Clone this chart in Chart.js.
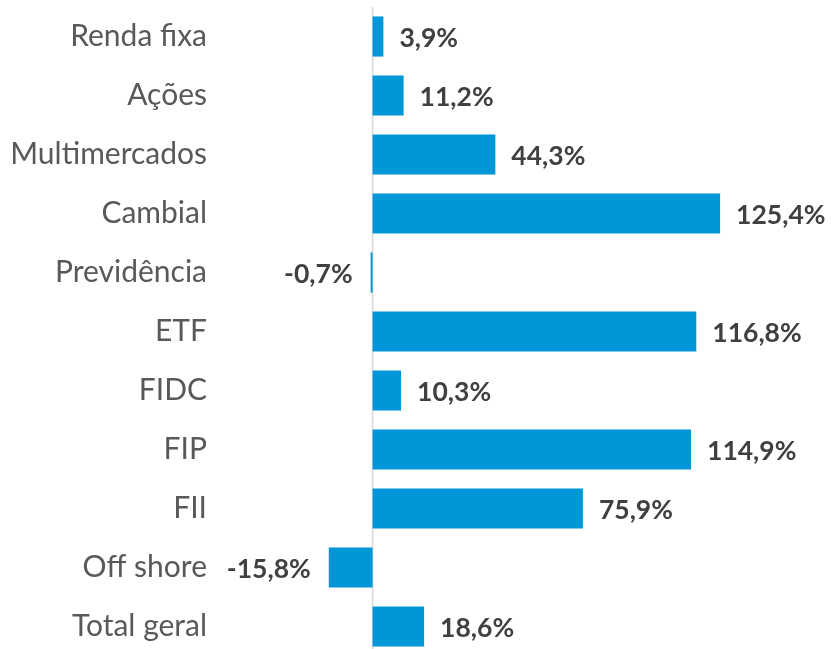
<!DOCTYPE html>
<html>
<head>
<meta charset="utf-8">
<script src="https://cdn.jsdelivr.net/npm/chart.js@4.4.1/dist/chart.umd.min.js"></script>
<style>
  html, body { margin: 0; padding: 0; background: #fff; overflow: hidden; }
  #wrap { width: 831px; height: 656px; }
</style>
</head>
<body>
<div id="wrap"><canvas id="fundosChart" width="831" height="656"></canvas></div>
<script>
'use strict'

// Categorias e variação (%)
const categorias = [
    'Renda fixa', 'Ações', 'Multimercados', 'Cambial', 'Previdência',
    'ETF', 'FIDC', 'FIP', 'FII', 'Off shore', 'Total geral'
]
const variacao = [3.9, 11.2, 44.3, 125.4, -0.7, 116.8, 10.3, 114.9, 75.9, -15.8, 18.6]

// rótulos de dados no formato brasileiro
const rotulos = variacao.map(v => v.toFixed(1).replace('.', ',') + '%')

// linha do zero + rótulos
const rotuloPlugin = {
    id: 'rotulos',
    beforeDatasetsDraw(chart) {
        const ctx = chart.ctx
        const x0 = chart.scales.x.getPixelForValue(0)
        ctx.save()
        ctx.strokeStyle = '#d9d9d9'
        ctx.lineWidth = 1.5
        ctx.beginPath()
        ctx.moveTo(x0, chart.chartArea.top)
        ctx.lineTo(x0, chart.height)
        ctx.stroke()
        ctx.restore()
    },
    afterDatasetsDraw(chart) {
        const ctx = chart.ctx
        const meta = chart.getDatasetMeta(0)
        ctx.save()
        ctx.font = 'bold 26.5px Lato'
        ctx.fillStyle = '#404040'
        ctx.textBaseline = 'middle'
        meta.data.forEach((bar, i) => {
            if (variacao[i] >= 0) {
                ctx.textAlign = 'left'
                ctx.fillText(rotulos[i], bar.x + 16, bar.y + 2)
            } else {
                ctx.textAlign = 'right'
                ctx.fillText(rotulos[i], bar.x - 18, bar.y + 2)
            }
        })
        ctx.restore()
    }
}

const ctx = document.getElementById('fundosChart')
// eslint-disable-next-line no-unused-vars
const myChart = new Chart(ctx, {
    type: 'bar',
    data: {
        labels: categorias,
        datasets: [{
            data: variacao,
            backgroundColor: '#0096d8',
            borderWidth: 0,
            barPercentage: 0.68,
            categoryPercentage: 1
        }]
    },
    plugins: [rotuloPlugin],
    options: {
        indexAxis: 'y',
        responsive: false,
        animation: false,
        layout: {
            padding: {top: 7, right: 15, bottom: 0, left: 0}
        },
        plugins: {
            legend: {display: false},
            tooltip: {enabled: false}
        },
        scales: {
            x: {
                min: -50,
                max: 160,
                display: false
            },
            y: {
                afterFit(scale) {
                    scale.width = 234
                    scale.paddingTop = 0
                    scale.paddingBottom = 0
                },
                border: {display: false},
                grid: {display: false, drawTicks: false},
                ticks: {
                    padding: 27,
                    color: '#595959',
                    font: {family: 'Lato', size: 30}
                }
            }
        }
    }
})
</script>
</body>
</html>
